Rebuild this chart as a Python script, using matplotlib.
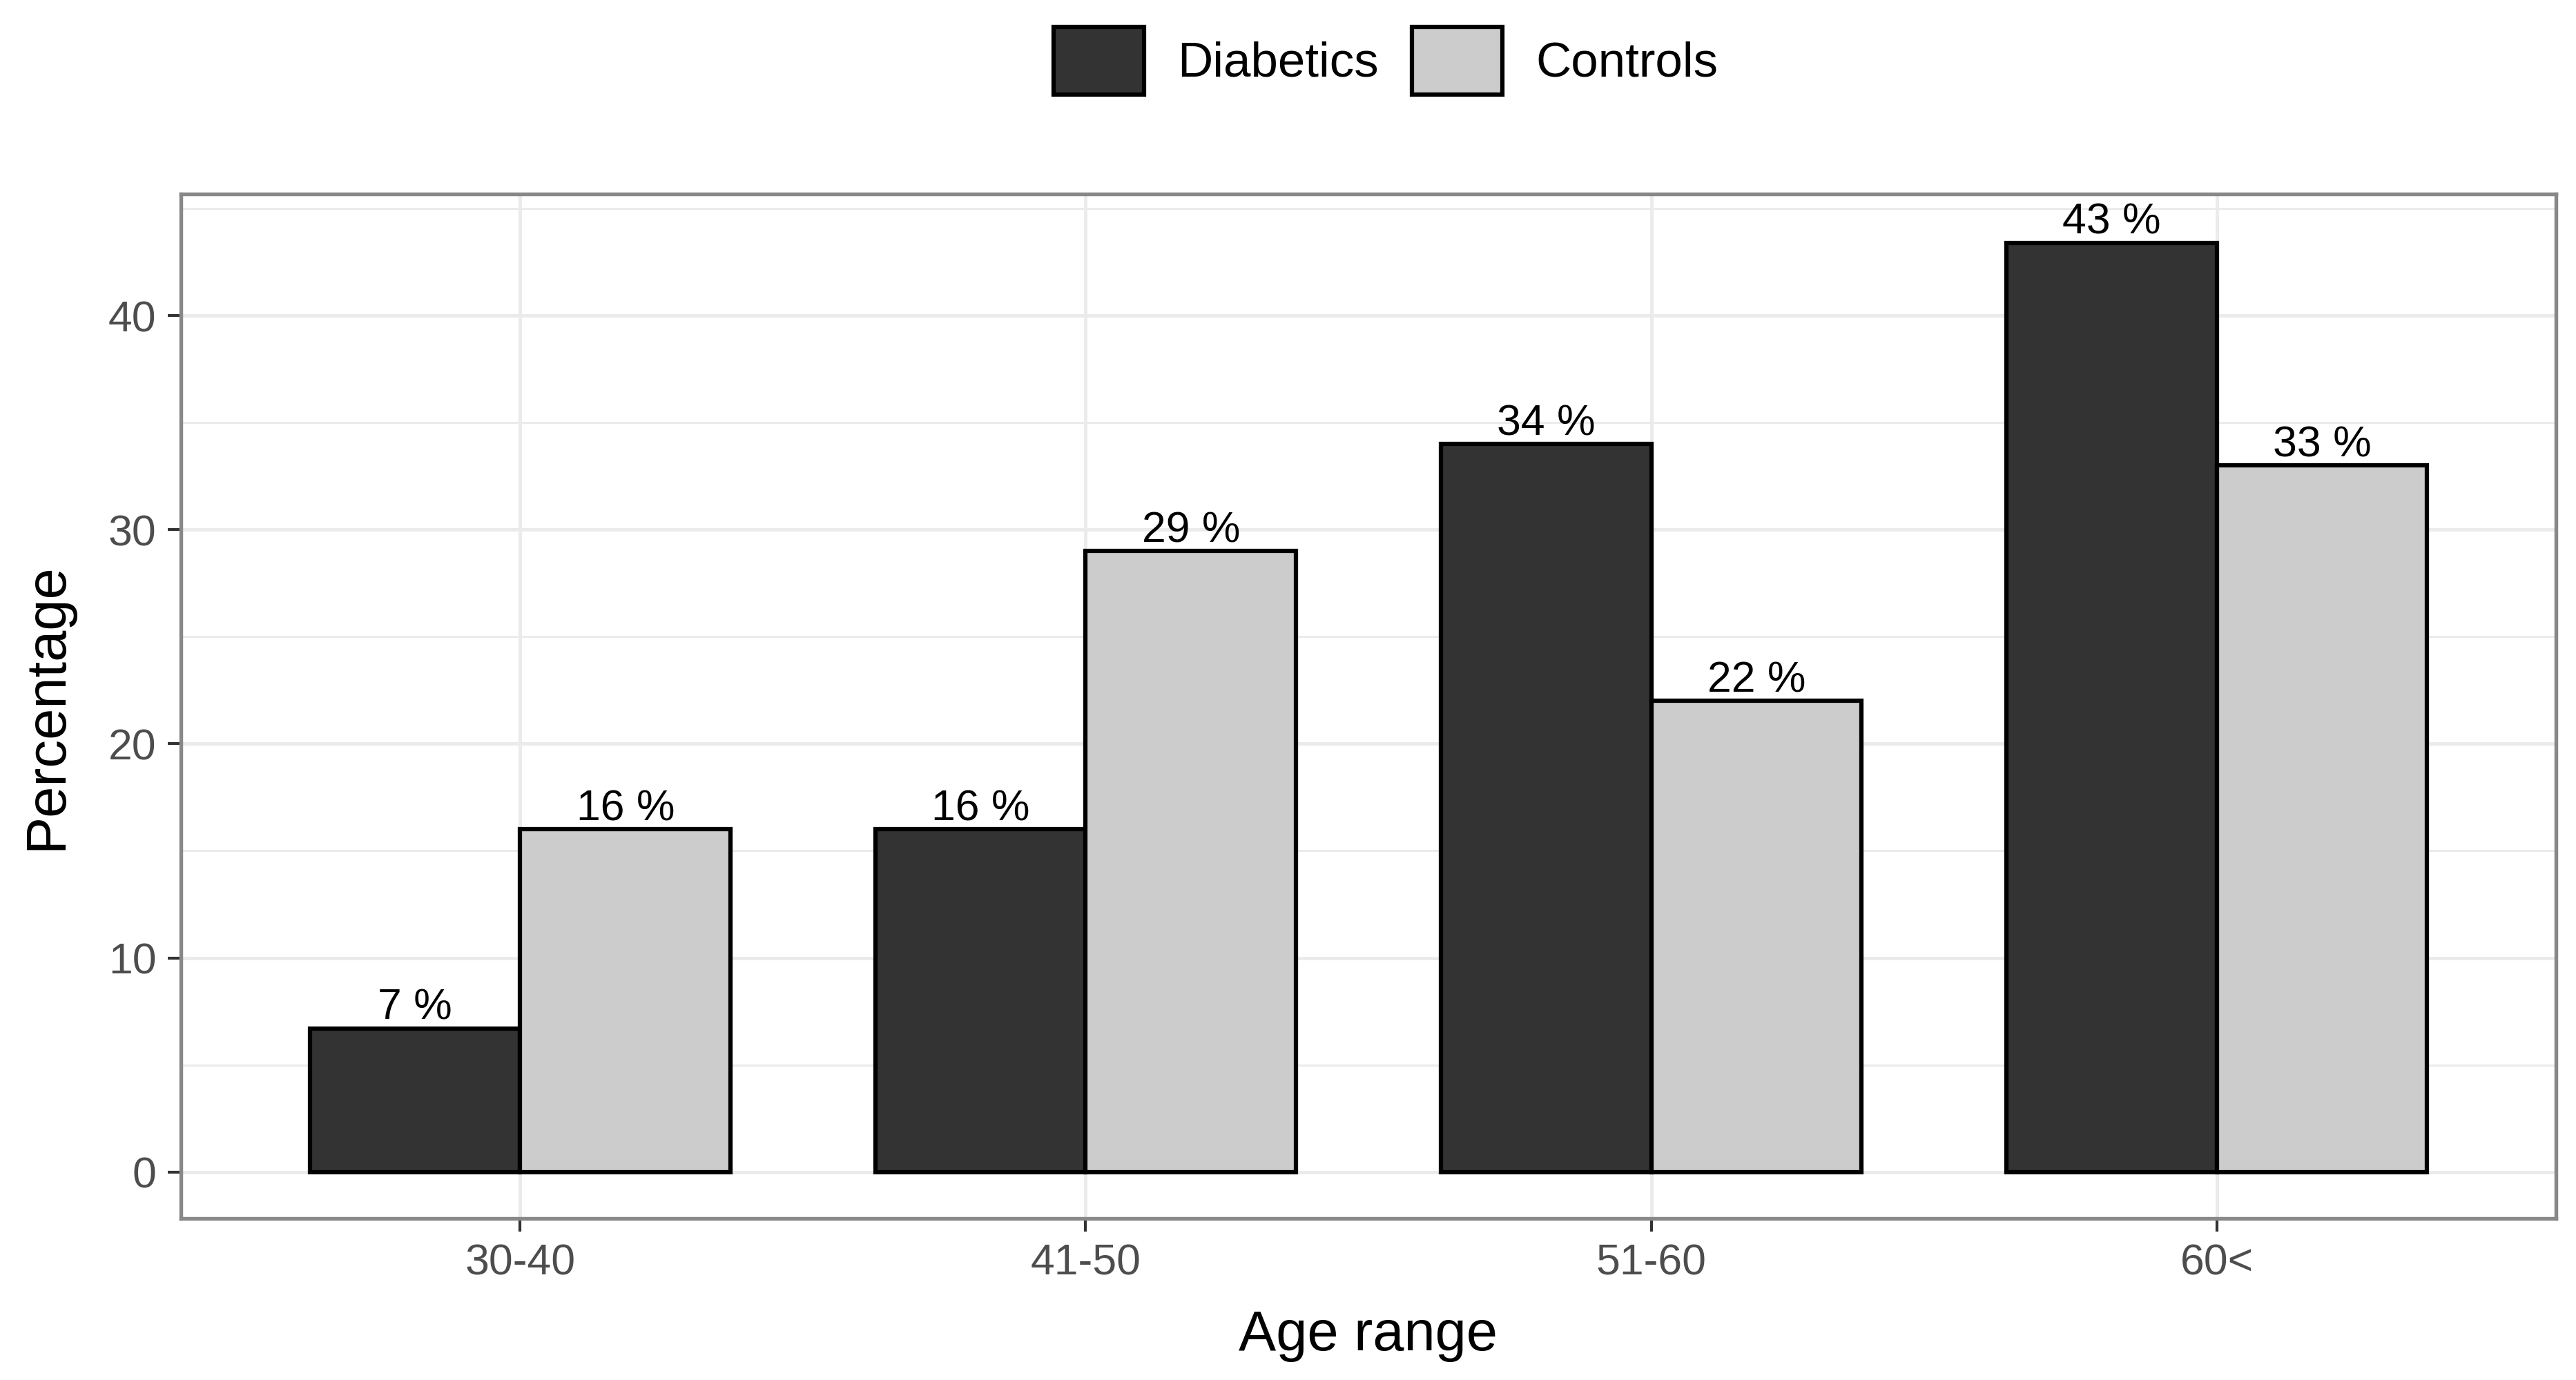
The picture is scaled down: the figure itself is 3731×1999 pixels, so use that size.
import matplotlib
matplotlib.use("Agg")
import matplotlib.pyplot as plt
from matplotlib.patches import Patch
from matplotlib.ticker import MultipleLocator
import numpy as np

categories = ["30-40", "41-50", "51-60", "60<"]
diabetics = [6.7, 16.0, 34.0, 43.4]
controls = [16.0, 29.0, 22.0, 33.0]
series_names = ["Diabetics", "Controls"]
colors = ["#333333", "#CCCCCC"]

plt.rcParams['font.family'] = ['Liberation Sans', 'DejaVu Sans']

W, H = 3731, 1999
dpi = 300
fig = plt.figure(figsize=(W / dpi, H / dpi), dpi=dpi)
left, right, top, bottom = 262, 3702, 281, 1765
ax = fig.add_axes([left / W, 1 - bottom / H, (right - left) / W, (bottom - top) / H])

x = np.arange(len(categories))
bw = 0.372
for vals, off, col in [(diabetics, -bw / 2, colors[0]), (controls, bw / 2, colors[1])]:
    bars = ax.bar(x + off, vals, width=bw, color=col, edgecolor="black", linewidth=1.5, zorder=3)
    for b, v in zip(bars, vals):
        ax.annotate(f"{round(v)} %", (b.get_x() + b.get_width() / 2, v), xytext=(0, 0),
                    textcoords="offset points", ha="center", va="bottom", fontsize=15,
                    color="black", zorder=4)

ymax = max(max(diabetics), max(controls))
ax.set_ylim(-0.05 * ymax, ymax * 1.0525)
ax.set_xlim(-0.6, len(categories) - 1 + 0.6)
ax.set_xticks(x)
ax.set_xticklabels(categories)
ax.yaxis.set_major_locator(MultipleLocator(10))
ax.yaxis.set_minor_locator(MultipleLocator(5))
ax.tick_params(axis="both", which="major", labelsize=15, labelcolor="#4D4D4D",
               color="#333333", length=4.5, width=1.0, pad=4)
ax.tick_params(axis="y", which="minor", length=0)
ax.grid(which="major", color="#EBEBEB", linewidth=1.2, zorder=0)
ax.grid(which="minor", axis="y", color="#EBEBEB", linewidth=0.7, zorder=0)
ax.set_axisbelow(True)
for s in ax.spines.values():
    s.set_color("#888888")
    s.set_linewidth(1.3)

ax.set_xlabel("Age range", fontsize=19.5, labelpad=9)
ax.set_ylabel("Percentage", fontsize=19.5, labelpad=12)

handles = [Patch(facecolor=colors[i], edgecolor="black", linewidth=1.5, label=series_names[i])
           for i in range(2)]
fig.legend(handles=handles, loc="center", bbox_to_anchor=(0.538, 1 - 88 / H), ncol=2,
           frameon=False, fontsize=17, handlelength=1.85, handleheight=1.75,
           handletextpad=0.68, columnspacing=0.68)

fig.savefig("out.png", dpi=dpi, facecolor="white")
